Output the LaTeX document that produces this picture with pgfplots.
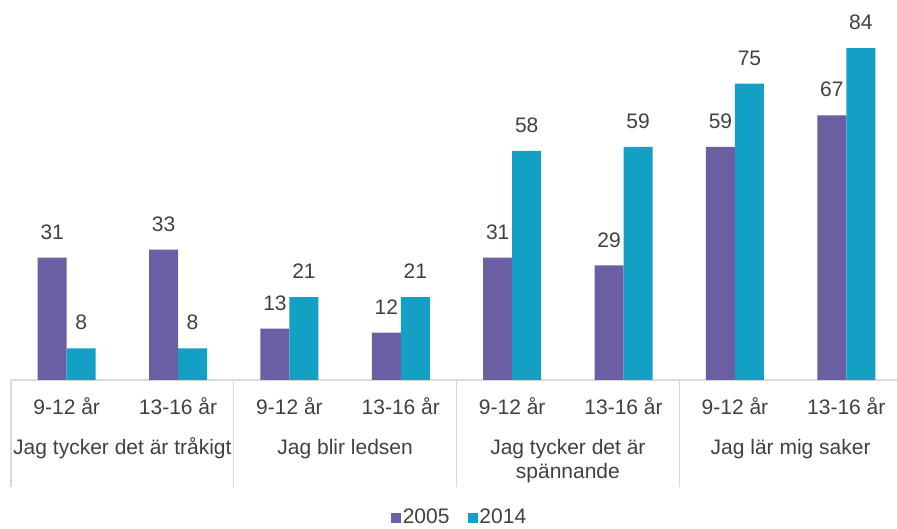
\documentclass[border=0pt]{standalone}
\usepackage{pgfplots}
\pgfplotsset{compat=1.18}
\usepackage{fontspec}
\setmainfont{Liberation Sans}
\definecolor{cA}{HTML}{6C5EA3}
\definecolor{cB}{HTML}{14A0C4}
\definecolor{txt}{HTML}{404040}
\definecolor{gridc}{HTML}{D9D9D9}
\newcommand{\ff}{\fontsize{21}{25}\selectfont}
\begin{document}
\ff
\begin{tikzpicture}
\begin{axis}[
  scale only axis, width=891pt, height=380pt,
  xmin=-0.5, xmax=7.5, ymin=0, ymax=96.2,
  ybar=0pt, bar width=29pt,
  axis x line=bottom, axis y line=none,
  x axis line style={draw=gridc, line width=1.2pt, -},
  ytick=\empty,
  xtick={0,1,2,3,4,5,6,7},
  xticklabels={9-12 år,13-16 år,9-12 år,13-16 år,9-12 år,13-16 år,9-12 år,13-16 år},
  major tick length=0pt,
  /pgf/number format/assume math mode=true,
  xticklabel style={anchor=base, yshift=-35pt, text=txt, font=\ff},
  nodes near coords,
  nodes near coords style={font=\ff, text=txt, anchor=south, inner sep=0pt, yshift=18pt},
  clip=false,
  legend style={at={(0.5,0)}, anchor=center, xshift=3pt, yshift=-138pt, draw=none, fill=none,
    legend columns=-1, font=\ff, text=txt, nodes={inner sep=1.5pt},
    /tikz/every even column/.append style={column sep=17pt}},
  legend image code/.code={\fill[#1, draw=none] (0pt,-5pt) rectangle (10pt,5pt);},
]
\addplot[fill=cA, draw=none] coordinates {(0,31) (1,33) (2,13) (3,12) (4,31) (5,29) (6,59) (7,67)};
\addplot[fill=cB, draw=none] coordinates {(0,8) (1,8) (2,21) (3,21) (4,58) (5,59) (6,75) (7,84)};
\legend{2005,2014}
\coordinate (BL) at (rel axis cs:0,0);
\draw[gridc, line width=1.2pt] (axis cs:-0.5,0) -- ++(0pt,-107pt);
\draw[gridc, line width=1.2pt] (axis cs:1.5,0) -- ++(0pt,-107pt);
\draw[gridc, line width=1.2pt] (axis cs:3.5,0) -- ++(0pt,-107pt);
\draw[gridc, line width=1.2pt] (axis cs:5.5,0) -- ++(0pt,-107pt);
\draw[gridc, line width=1.2pt] (axis cs:7.5,0) -- ++(0pt,-107pt);
\node[anchor=base, text=txt, inner sep=0pt] at ([yshift=-75pt]axis cs:0.5,0) {Jag tycker det är tråkigt};
\node[anchor=base, text=txt, inner sep=0pt] at ([yshift=-75pt]axis cs:2.5,0) {Jag blir ledsen};
\node[anchor=base, text=txt, inner sep=0pt] at ([yshift=-75pt]axis cs:4.5,0) {Jag tycker det är};
\node[anchor=base, text=txt, inner sep=0pt] at ([yshift=-99pt]axis cs:4.5,0) {spännande};
\node[anchor=base, text=txt, inner sep=0pt] at ([yshift=-75pt]axis cs:6.5,0) {Jag lär mig saker};
\end{axis}
\pgfresetboundingbox
\path[use as bounding box] ([xshift=-11pt,yshift=-149pt]BL) rectangle ([xshift=886pt,yshift=380pt]BL);
\end{tikzpicture}
\end{document}
